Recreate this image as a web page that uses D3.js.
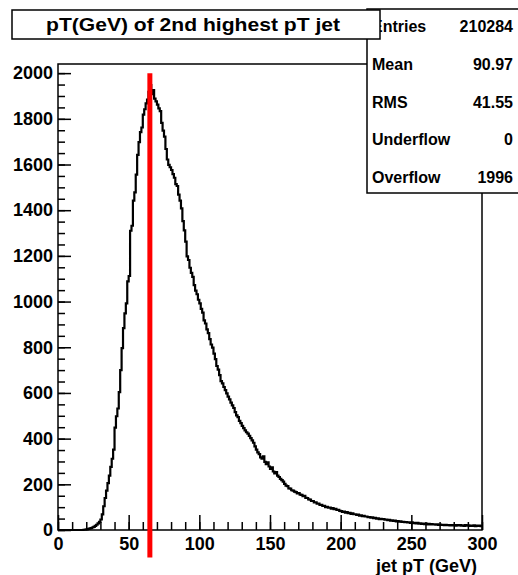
<!DOCTYPE html>
<html>
<head>
<meta charset="utf-8">
<script src="https://cdn.jsdelivr.net/npm/d3@7"></script>
<style>
  body { margin: 0; background: #fff; }
  text { font-family: "Liberation Sans", Arial, sans-serif; font-weight: bold; }
</style>
</head>
<body>
<script>
'use strict';

// histogram: 300 bins of 1 GeV from 0 to 300, counts
const binWidth = 1;
const counts = [
  0,0,0,0,0,0,0,0,0,0,
  0,0,0,0,0,0,0,0,1,2,
  3,5,6,8,11,14,18,23,29,36,
  46,68,104,140,172,205,238,276,312,352,
  448,498,532,604,700,796,884,948,992,1088,
  1112,1310,1332,1442,1478,1556,1642,1698,1742,1762,
  1818,1842,1868,1884,1918,1948,1908,1926,1888,1876,
  1862,1846,1834,1782,1748,1722,1668,1622,1598,1588,
  1576,1558,1542,1514,1506,1468,1442,1408,1352,1312,
  1262,1198,1182,1148,1126,1108,1072,1048,1032,1008,
  992,968,952,918,904,878,862,836,812,798,
  772,748,718,702,678,652,642,626,612,598,
  584,572,558,546,534,516,502,494,478,468,
  456,446,436,428,422,412,402,392,382,366,
  352,340,332,318,312,322,298,288,296,278,
  268,274,256,248,254,238,232,224,218,212,
  202,194,192,182,181,174,172,168,166,160,
  162,155,154,148,149,141,140,134,133,127,
  127,121,121,115,116,110,110,105,106,100,
  101,98,98,94,96,91,93,88,88,84,
  83,79,81,76,78,74,75,71,73,69,
  69,66,67,63,64,61,62,59,59,56,
  57,54,55,52,53,50,51,48,49,47,
  48,45,46,43,44,41,42,40,41,38,
  39,37,38,35,36,34,35,33,34,31,
  33,30,31,29,31,28,29,27,28,26,
  28,25,27,24,26,24,25,23,25,22,
  24,22,23,21,23,21,22,20,22,20,
  22,19,21,20,21,19,20,18,21,19,
  20,18,19,18,20,17,19,18,19,17
];

const xTicks = [0, 50, 100, 150, 200, 250, 300];
const yTicks = [0, 200, 400, 600, 800, 1000, 1200, 1400, 1600, 1800, 2000];

const titleText = "pT(GeV) of 2nd highest pT jet";
const xTitle = "jet pT (GeV)";
const statLabels = ["Entries", "Mean", "RMS", "Underflow", "Overflow"];
const statValues = ["210284", "90.97", "41.55", "0", "1996"];

// red marker line: x position and y range in data units
const markerX = [65];
const markerY = [-120, 2000];

const width = 518;
const height = 575;

const svg = d3.select("body").append("svg")
  .attr("width", width)
  .attr("height", height);

const x = d3.scaleLinear().domain([0, 300]).range([58, 482]);
const y = d3.scaleLinear().domain([0, 2040]).range([530, 64]);

function styleLabels(g) {
  g.selectAll("text")
    .attr("font-size", 18)
    .attr("fill", "#000")
    .style("font-family", "Liberation Sans, Arial, sans-serif")
    .style("font-weight", "bold");
}

// minor ticks
svg.append("g")
  .attr("transform", "translate(" + x(0) + ",0)")
  .call(d3.axisLeft(y).tickValues(d3.range(0, 2001, 50)).tickSize(-7).tickFormat(""))
  .call(g => g.select(".domain").remove())
  .call(g => g.selectAll("line").attr("stroke-width", 1.5));

svg.append("g")
  .attr("transform", "translate(0," + y(0) + ")")
  .call(d3.axisBottom(x).tickValues(d3.range(0, 301, 10)).tickSize(-8).tickFormat(""))
  .call(g => g.select(".domain").remove())
  .call(g => g.selectAll("line").attr("stroke-width", 1.5));

// major ticks + labels
svg.append("g")
  .attr("transform", "translate(" + x(0) + ",0)")
  .call(d3.axisLeft(y).tickValues(yTicks).tickFormat(d3.format("d"))
    .tickSizeInner(-13).tickSizeOuter(0).tickPadding(5))
  .call(g => g.select(".domain").remove())
  .call(g => g.selectAll("line").attr("stroke-width", 1.5))
  .call(styleLabels);

svg.append("g")
  .attr("transform", "translate(0," + y(0) + ")")
  .call(d3.axisBottom(x).tickValues(xTicks).tickFormat(d3.format("d"))
    .tickSizeInner(-15).tickSizeOuter(0).tickPadding(7))
  .call(g => g.select(".domain").remove())
  .call(g => g.selectAll("line").attr("stroke-width", 1.5))
  .call(styleLabels);

// histogram outline as steps
const pts = counts.map((c, i) => [i * binWidth, c]);
pts.push([counts.length * binWidth, counts[counts.length - 1]]);

const line = d3.line()
  .x(d => x(d[0]))
  .y(d => y(d[1]))
  .curve(d3.curveStepAfter);

svg.append("path")
  .datum(pts)
  .attr("d", line)
  .attr("fill", "none")
  .attr("stroke", "#000")
  .attr("stroke-width", 2.2);

// plot frame
svg.append("rect")
  .attr("x", x(0))
  .attr("y", y(2040))
  .attr("width", x(300) - x(0))
  .attr("height", y(0) - y(2040))
  .attr("fill", "none")
  .attr("stroke", "#000")
  .attr("stroke-width", 1.5);

// red marker
svg.append("line")
  .attr("x1", x(markerX[0]))
  .attr("x2", x(markerX[0]))
  .attr("y1", y(markerY[0]))
  .attr("y2", y(markerY[1]))
  .attr("stroke", "#ff0000")
  .attr("stroke-width", 5);

// x axis title
svg.append("text")
  .attr("x", 477)
  .attr("y", 572)
  .attr("text-anchor", "end")
  .attr("font-size", 18)
  .text(xTitle);

// stats box
svg.append("rect")
  .attr("x", 367)
  .attr("y", 9)
  .attr("width", 170)
  .attr("height", 184)
  .attr("fill", "#fff")
  .attr("stroke", "#000")
  .attr("stroke-width", 1.5);

statLabels.forEach((lab, i) => {
  let by = 32 + i * 37.8;
  svg.append("text")
    .attr("x", 372)
    .attr("y", by)
    .attr("font-size", 16)
    .text(lab);
  svg.append("text")
    .attr("x", 513)
    .attr("y", by)
    .attr("text-anchor", "end")
    .attr("font-size", 16)
    .text(statValues[i]);
});

// title box, drawn over the stats box
svg.append("rect")
  .attr("x", 12)
  .attr("y", 10)
  .attr("width", 368)
  .attr("height", 29)
  .attr("fill", "#fff")
  .attr("stroke", "#000")
  .attr("stroke-width", 1.5);

svg.append("text")
  .attr("x", 193)
  .attr("y", 31)
  .attr("text-anchor", "middle")
  .attr("font-size", 19)
  .attr("textLength", 294)
  .attr("lengthAdjust", "spacingAndGlyphs")
  .text(titleText);
</script>
</body>
</html>
